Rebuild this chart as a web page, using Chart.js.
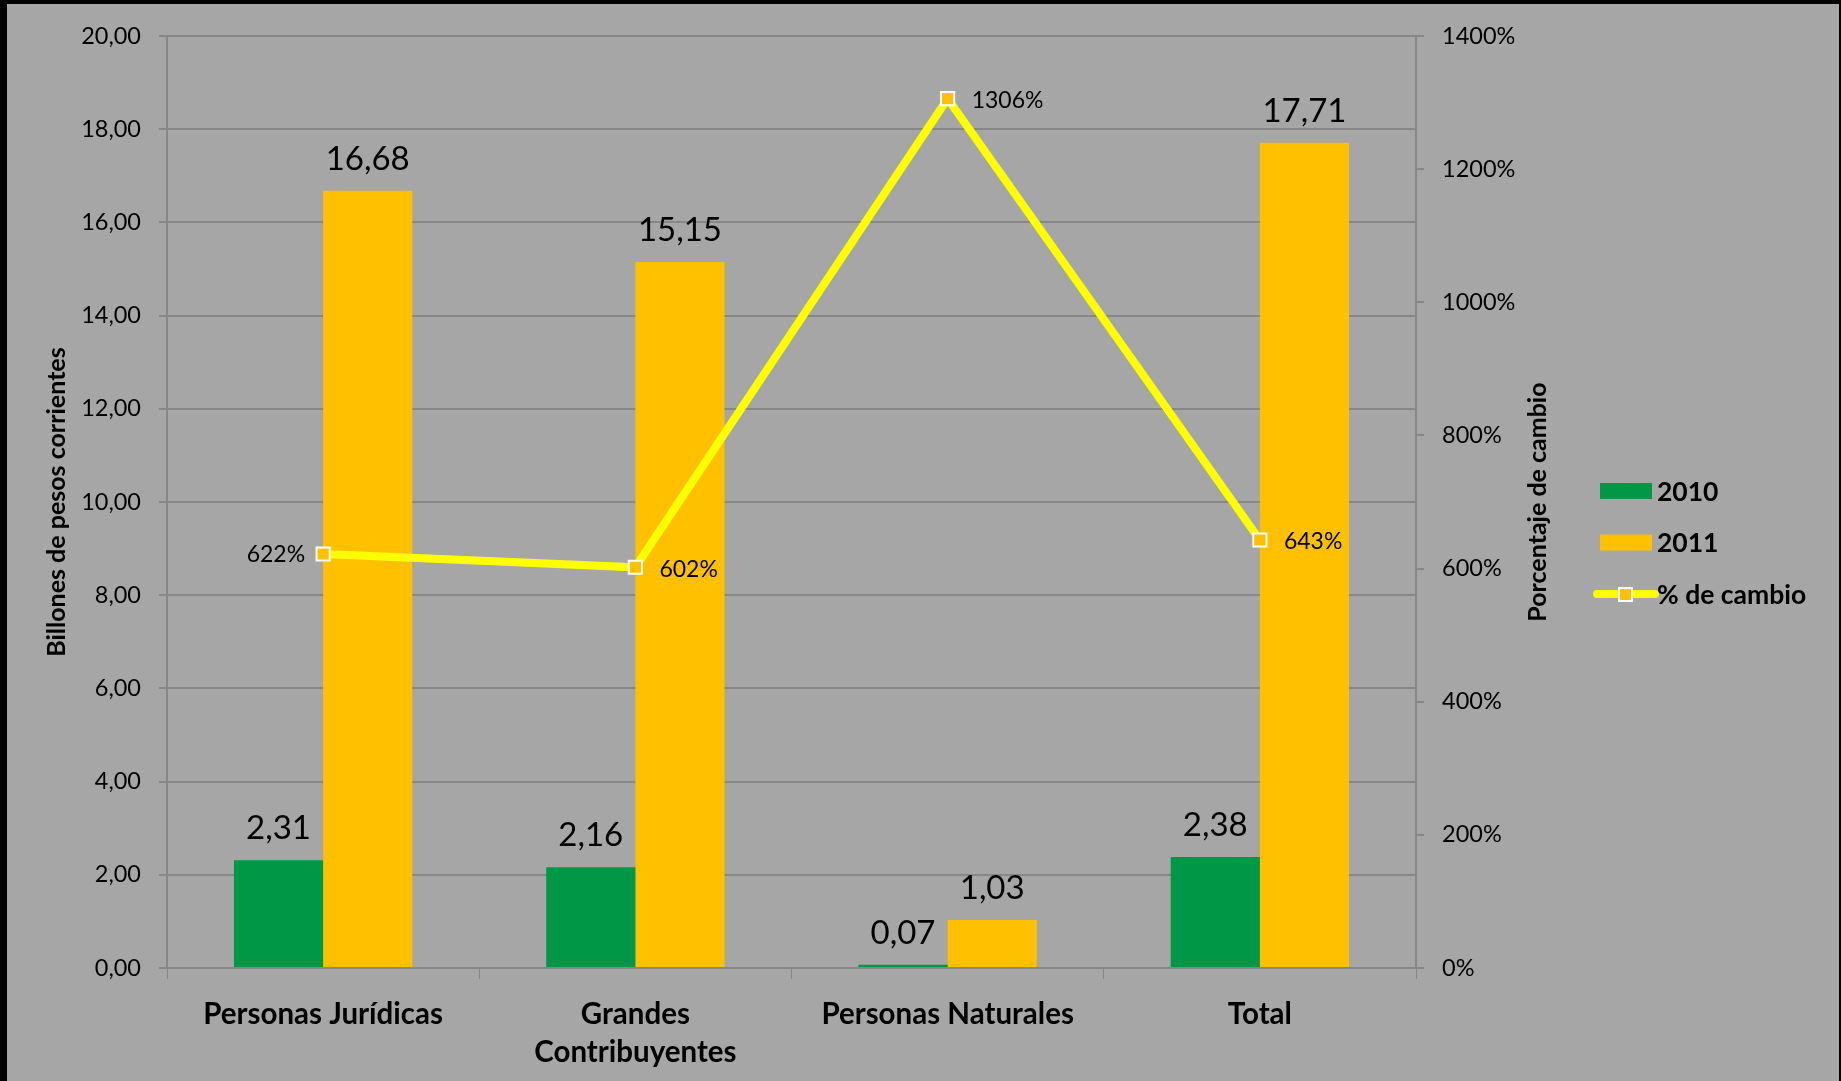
<!DOCTYPE html>
<html>
<head>
<meta charset="utf-8">
<title>Billones de pesos corrientes</title>
<script src="https://cdn.jsdelivr.net/npm/chart.js@4.4.1/dist/chart.umd.min.js"></script>
<style>
  html, body { margin: 0; padding: 0; background: #000; overflow: hidden; }
  #wrap { position: absolute; left: 7px; top: 4px; width: 1832px; height: 1077px; background: #a6a6a6; }
</style>
</head>
<body>
<div id="wrap"><canvas id="chart"></canvas></div>
<script>
// data
const categories = ['Personas Jurídicas', ['Grandes', 'Contribuyentes'], 'Personas Naturales', 'Total'];
const seriesNames = ['2010', '2011', '% de cambio'];
const values2010 = [2.31, 2.16, 0.07, 2.38];
const values2011 = [16.68, 15.15, 1.03, 17.71];
const pctChange = [622, 602, 1306, 643];
const pctLabelSide = ['left', 'right', 'right', 'right'];
const leftAxis = { min: 0, max: 20, step: 2 };
const rightAxis = { min: 0, max: 1400, step: 200 };

const GREEN = '#009846';
const GOLD = '#ffc000';
const YELLOW = '#ffff00';
const GRID = '#878787';
const FONT = 'Lato, "Open Sans", sans-serif';

const fmtNum = v => v.toFixed(2).replace('.', ',');

// data labels on bars and on the line
const valueLabels = {
  id: 'valueLabels',
  afterDatasetsDraw(chart) {
    const ctx = chart.ctx;
    ctx.save();
    ctx.fillStyle = '#000';
    chart.data.datasets.forEach((ds, i) => {
      const meta = chart.getDatasetMeta(i);
      meta.data.forEach((el, j) => {
        if (ds.type === 'line') {
          ctx.font = '23px ' + FONT;
          ctx.textBaseline = 'middle';
          const txt = Math.round(ds.data[j]) + '%';
          if (pctLabelSide[j] === 'left') {
            ctx.textAlign = 'right';
            ctx.fillText(txt, el.x - 18, el.y + 1);
          } else {
            ctx.textAlign = 'left';
            ctx.fillText(txt, el.x + 24, el.y + 2);
          }
        } else {
          ctx.font = '33px ' + FONT;
          ctx.textAlign = 'center';
          ctx.textBaseline = 'alphabetic';
          ctx.fillText(fmtNum(ds.data[j]), el.x, el.y - 21);
        }
      });
    });
    ctx.restore();
  }
};

// right axis title (reads bottom to top) and legend
const sideDecor = {
  id: 'sideDecor',
  afterDraw(chart) {
    const ctx = chart.ctx;
    const y1 = chart.scales.y1;
    const area = chart.chartArea;
    ctx.save();
    ctx.fillStyle = '#000';
    ctx.font = 'bold 25px ' + FONT;
    ctx.textAlign = 'center';
    ctx.textBaseline = 'middle';
    ctx.translate(y1.left + 122, (area.top + area.bottom) / 2);
    ctx.rotate(-Math.PI / 2);
    ctx.fillText(chart.options.scales.y1.title.text, 0, 0);
    ctx.restore();

    // legend
    ctx.save();
    const lx = y1.left + 184;
    const gap = 51.5;
    const y0 = chart.height / 2 - gap;
    ctx.font = 'bold 26.5px ' + FONT;
    ctx.textBaseline = 'middle';
    ctx.textAlign = 'left';
    chart.data.datasets.forEach((ds, i) => {
      const cy = y0 + i * gap;
      if (ds.type === 'line') {
        ctx.strokeStyle = ds.borderColor;
        ctx.lineWidth = 8;
        ctx.lineCap = 'round';
        ctx.beginPath();
        ctx.moveTo(lx - 3, cy);
        ctx.lineTo(lx + 55, cy);
        ctx.stroke();
        ctx.fillStyle = ds.pointBackgroundColor;
        ctx.strokeStyle = ds.pointBorderColor;
        ctx.lineWidth = 2;
        ctx.fillRect(lx + 19, cy - 6, 13, 13);
        ctx.strokeRect(lx + 19, cy - 6, 13, 13);
      } else {
        ctx.fillStyle = ds.backgroundColor;
        ctx.fillRect(lx, cy - 8, 52, 16);
      }
      ctx.fillStyle = '#000';
      ctx.fillText(ds.label, lx + 57, cy + 1);
    });
    ctx.restore();
  }
};

const ctx = document.getElementById('chart').getContext('2d');
const chart = new Chart(ctx, {
  data: {
    labels: categories,
    datasets: [
      { type: 'bar', label: seriesNames[0], data: values2010, backgroundColor: GREEN, yAxisID: 'y', order: 2,
        categoryPercentage: 0.571, barPercentage: 1.0 },
      { type: 'bar', label: seriesNames[1], data: values2011, backgroundColor: GOLD, yAxisID: 'y', order: 2,
        categoryPercentage: 0.571, barPercentage: 1.0 },
      { type: 'line', label: seriesNames[2], data: pctChange, yAxisID: 'y1', order: 1,
        borderColor: YELLOW, borderWidth: 8, tension: 0,
        pointStyle: 'rect', pointRadius: 9.3, pointBackgroundColor: GOLD,
        pointBorderColor: '#ffffff', pointBorderWidth: 2 }
    ]
  },
  options: {
    responsive: true,
    maintainAspectRatio: false,
    animation: false,
    layout: { padding: { top: 30, left: 0, right: 0, bottom: 0 } },
    plugins: {
      legend: { display: false },
      tooltip: { enabled: false }
    },
    scales: {
      x: {
        offset: true,
        grid: { display: true, drawOnChartArea: false, offset: true, color: GRID, tickLength: 11 },
        border: { color: GRID, width: 2 },
        ticks: { color: '#000', font: { family: FONT, size: 29.5, weight: 'bold', lineHeight: 1.3 }, padding: 16, maxRotation: 0 },
        afterFit(scale) { scale.height = 113; }
      },
      y: {
        position: 'left',
        min: leftAxis.min,
        max: leftAxis.max,
        grid: { color: GRID, lineWidth: 2, tickLength: 8 },
        border: { color: GRID, width: 2 },
        ticks: { stepSize: leftAxis.step, color: '#000', font: { family: FONT, size: 23.5 }, padding: 18,
          callback: v => fmtNum(v) },
        title: { display: true, text: 'Billones de pesos corrientes', color: '#000',
          font: { family: FONT, size: 25, weight: 'bold' }, padding: { top: 35, bottom: 0 } },
        afterFit(scale) { scale.width = 160; }
      },
      y1: {
        position: 'right',
        min: rightAxis.min,
        max: rightAxis.max,
        grid: { drawOnChartArea: false, color: GRID, lineWidth: 2, tickLength: 8 },
        border: { color: GRID, width: 2 },
        ticks: { stepSize: rightAxis.step, color: '#000', font: { family: FONT, size: 23.5 }, padding: 18,
          callback: v => v + '%' },
        title: { display: false, text: 'Porcentaje de cambio' },
        afterFit(scale) { scale.width = 423; }
      }
    }
  },
  plugins: [valueLabels, sideDecor]
});
</script>
</body>
</html>
